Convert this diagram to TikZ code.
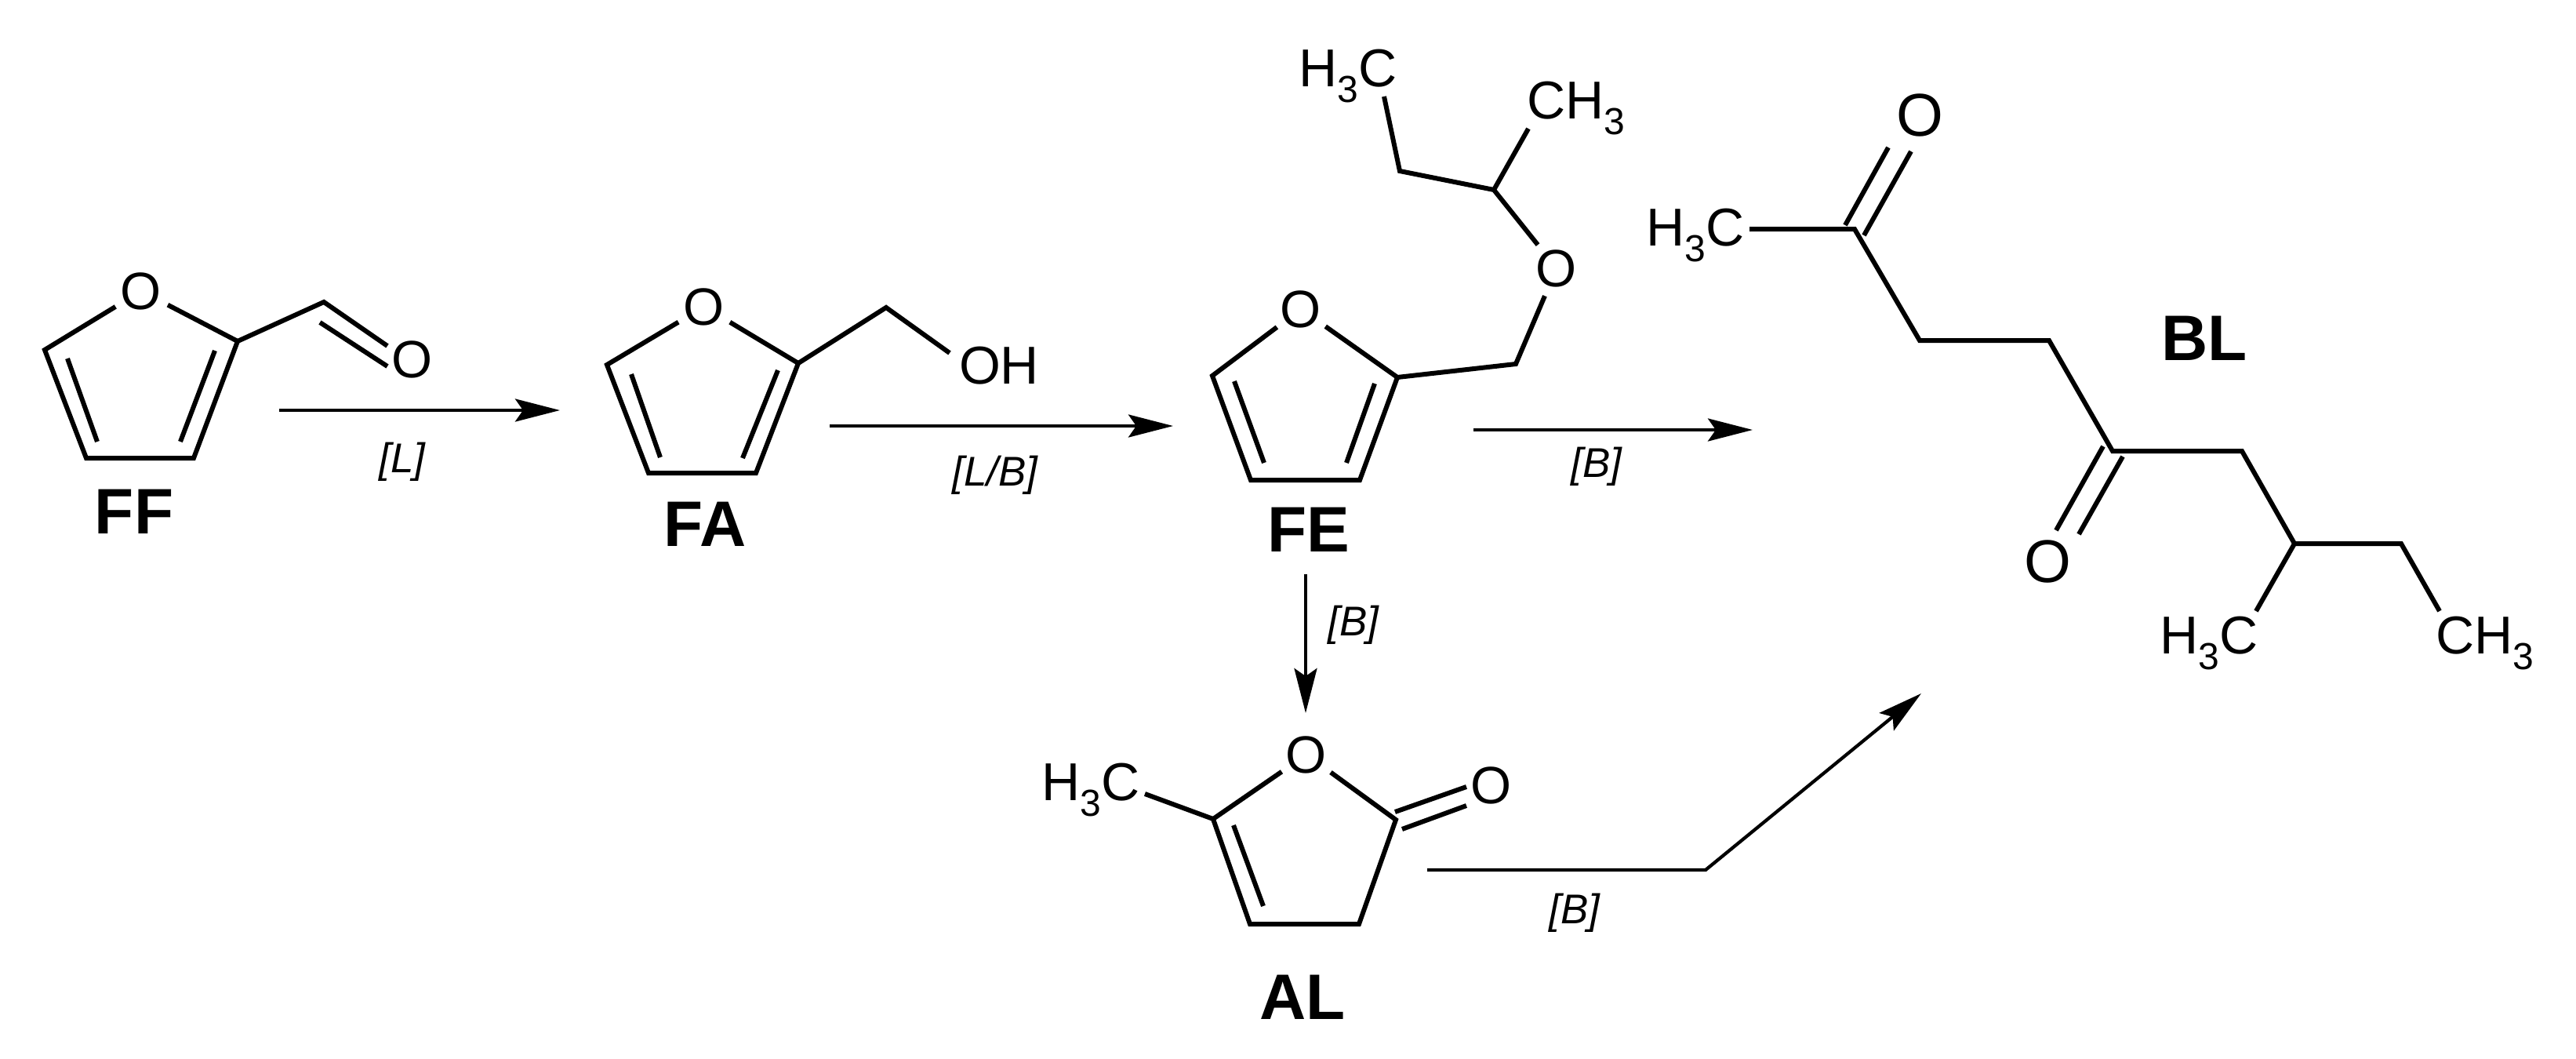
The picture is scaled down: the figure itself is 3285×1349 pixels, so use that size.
\documentclass[tikz,border=0pt]{standalone}
\usepackage{fontspec}
\setmainfont{Liberation Sans}
\usetikzlibrary{arrows.meta}

\newcommand{\sbt}{\raisebox{-0.3em}{\fontsize{9.6}{9.6}\selectfont 3}}

\tikzset{
  bond/.style={line width=1.2pt, line join=miter},
  rxn/.style={line width=0.85pt, -{Stealth[length=11.4pt,width=5.8pt,inset=2pt]}},
  atom/.style={shape=circle, inner sep=0.3pt, font=\fontsize{13.4}{13.4}\selectfont},
  atombig/.style={atom, font=\fontsize{15.4}{15.4}\selectfont},
  group/.style={inner sep=0pt, font=\fontsize{13.6}{13.6}\selectfont},
  cmpd/.style={inner sep=0pt, font=\fontsize{16.4}{16.4}\selectfont\bfseries},
  cond/.style={inner sep=0pt, font=\fontsize{10.6}{10.6}\selectfont\itshape}
}

\begin{document}
\begin{tikzpicture}[x=0.2pt, y=-0.2pt]
    \useasboundingbox (0,0) rectangle (3285,1349);

    %% FF
    \node[atom] (FFo)  at (180,371) {O};
    \node[atom] (FFo2) at (526,458) {O};
    \coordinate (FFa) at (57,446);
    \coordinate (FFb) at (110,584);
    \coordinate (FFc) at (247,584);
    \coordinate (FFd) at (303,435);
    \coordinate (FFe) at (413,385);
    \draw[bond] (FFo) -- (FFa) -- (FFb) -- (FFc) -- (FFd) -- (FFo);
    \draw[bond] (FFd) -- (FFe) -- (494,441);
    \draw[bond] (408,411) -- (494,467);
    \draw[bond] (86,457) -- (124,563);
    \draw[bond] (274,447) -- (230,563);
    \node[cmpd] (FF) at (171,652) {FF};

    %% FA
    \node[atom] (FAo) at (898,391) {O};
    \node[group, anchor=west] (FAoh) at (1222,466) {OH};
    \coordinate (FAa) at (774,465);
    \coordinate (FAb) at (827,603);
    \coordinate (FAc) at (964,603);
    \coordinate (FAd) at (1018,463);
    \coordinate (FAe) at (1130,392);
    \coordinate (FAf) at (1211,450);
    \draw[bond] (FAo) -- (FAa) -- (FAb) -- (FAc) -- (FAd) -- (FAo);
    \draw[bond] (FAd) -- (FAe) -- (FAf);
    \draw[bond] (805,477) -- (842,583);
    \draw[bond] (992,472) -- (947,584);
    \node[cmpd] (FA) at (899,668) {FA};

    %% FE
    \node[atom] (FEo)  at (1659,394) {O};
    \node[atom] (FEo2) at (1985,342) {O};
    \node[group] (FEh) at (1719,97)  {H\sbt C};
    \node[group] (FEm) at (2010,138) {CH\sbt};
    \coordinate (FEa) at (1546,479);
    \coordinate (FEb) at (1595,612);
    \coordinate (FEc) at (1734,612);
    \coordinate (FEd) at (1782,481);
    \coordinate (FEe) at (1933,464);
    \coordinate (FEf) at (1905,242);
    \coordinate (FEg) at (1785,218);
    \coordinate (FEi) at (1765,123);
    \coordinate (FEj) at (1949,164);
    \draw[bond] (FEo) -- (FEa) -- (FEb) -- (FEc) -- (FEd) -- (FEo);
    \draw[bond] (FEd) -- (FEe) -- (FEo2) -- (FEf) -- (FEg) -- (FEi);
    \draw[bond] (FEf) -- (FEj);
    \draw[bond] (1574,486) -- (1612,590);
    \draw[bond] (1753,489) -- (1717,590);
    \node[cmpd] (FE) at (1669,675) {FE};

    %% AL
    \node[atom] (ALo)  at (1666,962)  {O};
    \node[atom] (ALo2) at (1902,1001) {O};
    \node[group] (ALh) at (1391,1007) {H\sbt C};
    \coordinate (ALa) at (1547,1044);
    \coordinate (ALb) at (1594,1178);
    \coordinate (ALc) at (1733,1178);
    \coordinate (ALd) at (1780,1045);
    \coordinate (ALe) at (1460,1012);
    \draw[bond] (ALo) -- (ALa) -- (ALb) -- (ALc) -- (ALd) -- (ALo);
    \draw[bond] (ALe) -- (ALa);
    \draw[bond] (1573,1052) -- (1611,1155);
    \draw[bond] (1779,1035) -- (1870,1003);
    \draw[bond] (1788,1057) -- (1870,1027);
    \node[cmpd] (AL) at (1661,1271) {AL};

    %% BL
    \node[atombig] (BLo1) at (2448,147) {O};
    \node[atombig] (BLo2) at (2611,716) {O};
    \node[group] (BLh1) at (2162,300) {H\sbt C};
    \node[group] (BLh2) at (2817,820) {H\sbt C};
    \node[group] (BLm)  at (3169,820) {CH\sbt};
    \coordinate (BLa) at (2231,292);
    \coordinate (BLb) at (2365,292);
    \coordinate (BLc) at (2448,434);
    \coordinate (BLd) at (2613,434);
    \coordinate (BLe) at (2694,575);
    \coordinate (BLf) at (2859,575);
    \coordinate (BLg) at (2926,693);
    \coordinate (BLi) at (3062,693);
    \coordinate (BLj) at (3111,779);
    \coordinate (BLk) at (2877,779);
    \draw[bond] (BLa) -- (BLb) -- (BLc) -- (BLd) -- (BLe) -- (BLf) -- (BLg) -- (BLi) -- (BLj);
    \draw[bond] (BLg) -- (BLk);
    \draw[bond] (2353,287) -- (2408,188);
    \draw[bond] (2377,300) -- (2437,193);
    \draw[bond] (2682,569) -- (2622,676);
    \draw[bond] (2707,582) -- (2651,681);
    \node[cmpd] (BL) at (2811,431) {BL};

    %% arrows
    \coordinate (R1a) at (356,523);
    \coordinate (R1b) at (714,523);
    \coordinate (R2a) at (1058,543);
    \coordinate (R2b) at (1496,543);
    \coordinate (R3a) at (1879,548);
    \coordinate (R3b) at (2235,548);
    \coordinate (R4a) at (1665,732);
    \coordinate (R4b) at (1665,909);
    \coordinate (R5a) at (1820,1109);
    \coordinate (R5b) at (2175,1109);
    \coordinate (R5c) at (2450,884);
    \draw[rxn] (R1a) -- (R1b);
    \draw[rxn] (R2a) -- (R2b);
    \draw[rxn] (R3a) -- (R3b);
    \draw[rxn] (R4a) -- (R4b);
    \draw[rxn] (R5a) -- (R5b) -- (R5c);

    \node[cond] (C1) at (513,589)   {[L]};
    \node[cond] (C2) at (1269,606)  {[L/B]};
    \node[cond] (C3) at (2036,595)  {[B]};
    \node[cond] (C4) at (1726,797)  {[B]};
    \node[cond] (C5) at (2008,1164) {[B]};
\end{tikzpicture}
\end{document}
